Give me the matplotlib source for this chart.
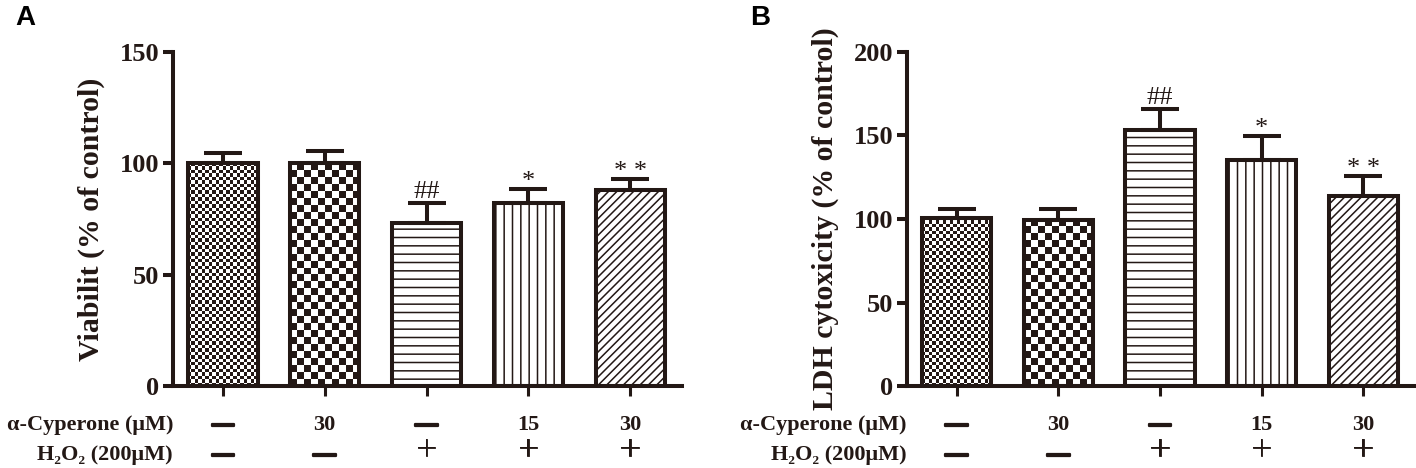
import numpy as np
import matplotlib
matplotlib.use('Agg')
import matplotlib.pyplot as plt
import matplotlib.patheffects as pe
from matplotlib.colors import ListedColormap
from matplotlib.transforms import blended_transform_factory

INK = '#231815'
plt.rcParams['font.family'] = ['Liberation Serif', 'DejaVu Serif']
plt.rcParams['hatch.color'] = INK
plt.rcParams['hatch.linewidth'] = 1.1

# treatment rows under the bars
cyperone = ['—', '30', '—', '15', '30']
h2o2 = ['—', '—', '+', '+', '+']

# panel A: viability
viab = [100, 100, 73, 82, 88]
viab_err = [4.5, 5.4, 9.0, 6.6, 5.0]
viab_sig = ['', '', '##', '*', '* *']

# panel B: LDH release
ldh = [100.6, 99.5, 153.3, 135.3, 113.8]
ldh_err = [5.4, 6.5, 12.4, 14.4, 11.9]
ldh_sig = ['', '', '##', '*', '* *']

fills = [3.4, 7.0, '--', '||', '////']   # number = checker cell size in px

fig = plt.figure(figsize=(14.16, 4.68), dpi=100)
ax_a = fig.add_axes([0.1222, 0.1752, 0.3595, 0.7137])
ax_b = fig.add_axes([0.6405, 0.1752, 0.3588, 0.7137])
checker_cmap = ListedColormap(['white', INK])


def panel(ax, vals, errs, sig, ymax, yticks, ylabel, letter, letter_x):
    x = np.arange(len(vals))
    w = 0.68
    xlim = (-0.49, 4.51)
    pos = ax.get_position()
    px_y = fig.get_figheight() * fig.dpi * pos.height / ymax
    px_x = fig.get_figwidth() * fig.dpi * pos.width / (xlim[1] - xlim[0])

    ax.bar(x, vals, w, color='white', edgecolor='none', zorder=2)
    for xi, v, f in zip(x, vals, fills):
        if not isinstance(f, str):
            nc = max(1, int(round(w * px_x / f)))
            nr = max(1, int(round(v * px_y / f)))
            grid = (np.add.outer(np.arange(nr), np.arange(nc)) % 2)
            ax.imshow(grid, cmap=checker_cmap, interpolation='nearest',
                      extent=(xi - w / 2, xi + w / 2, 0, v), aspect='auto',
                      zorder=2.5)
    outl = ax.bar(x, vals, w, fill=False, edgecolor=INK, linewidth=2.9, zorder=3)
    for b, f in zip(outl, fills):
        if isinstance(f, str):
            b.set_hatch(f)

    ax.errorbar(x, vals, yerr=[np.zeros(len(vals)), errs], fmt='none',
                ecolor=INK, elinewidth=2.9, capsize=13.5, capthick=2.9, zorder=4)
    for xi, v, e, s in zip(x, vals, errs, sig):
        if not s:
            continue
        off = 4 if '#' in s else 0.5
        ax.annotate(s, (xi, v + e), xytext=(0, off), textcoords='offset points',
                    ha='center', va='baseline', fontsize=19, color=INK)

    ax.set_xlim(*xlim)
    ax.set_ylim(0, ymax)
    ax.set_yticks(yticks)
    ax.set_xticks(x)
    for side in ['top', 'right']:
        ax.spines[side].set_visible(False)
    for side in ['left', 'bottom']:
        ax.spines[side].set_linewidth(2.9)
        ax.spines[side].set_color(INK)
    ax.tick_params(axis='y', length=7, width=2.9, color=INK, labelsize=19,
                   pad=3, labelcolor=INK)
    ax.tick_params(axis='x', length=7, width=2.2, color=INK, labelbottom=False)
    for t in ax.get_yticklabels():
        t.set_fontweight('bold')
    ax.set_ylabel(ylabel, fontsize=21.5, fontweight='bold', color=INK)
    ax.yaxis.label.set_verticalalignment('center')
    ax.yaxis.set_label_coords(-0.16, 0.5)

    tr = blended_transform_factory(ax.transData, fig.transFigure)
    tr_ax = blended_transform_factory(ax.transAxes, fig.transFigure)
    thick = [pe.withStroke(linewidth=1.6, foreground=INK)]
    ax.text(0, 0.0812, 'α-Cyperone (μM)', transform=tr_ax, ha='right',
            va='baseline', fontsize=16, fontweight='bold', color=INK)
    ax.text(0, 0.0171, 'H₂O₂ (200μM)', transform=tr_ax, ha='right',
            va='baseline', fontsize=16, fontweight='bold', color=INK)
    for xi, c, h in zip(x, cyperone, h2o2):
        t = ax.text(xi, 0.0812, c, transform=tr, ha='center', va='baseline',
                    fontsize=16, fontweight='bold', color=INK)
        if c == '—':
            t.set_path_effects(thick)
        if h == '+':
            ax.text(xi, 0.0171, h, transform=tr, ha='center', va='baseline',
                    fontsize=27, color=INK,
                    path_effects=[pe.withStroke(linewidth=0.6, foreground=INK)])
        else:
            ax.text(xi, 0.0171, h, transform=tr, ha='center', va='baseline',
                    fontsize=16, fontweight='bold', color=INK,
                    path_effects=thick)

    fig.text(letter_x, 0.9466, letter, family='Liberation Sans',
             fontweight='bold', fontsize=20, va='baseline', color='black')


panel(ax_a, viab, viab_err, viab_sig, 150, [0, 50, 100, 150],
      'Viabilit (% of control)', 'A', 0.0106)
panel(ax_b, ldh, ldh_err, ldh_sig, 200, [0, 50, 100, 150, 200],
      'LDH cytoxicity (% of control)', 'B', 0.5297)

fig.savefig('out.png', dpi=100)
